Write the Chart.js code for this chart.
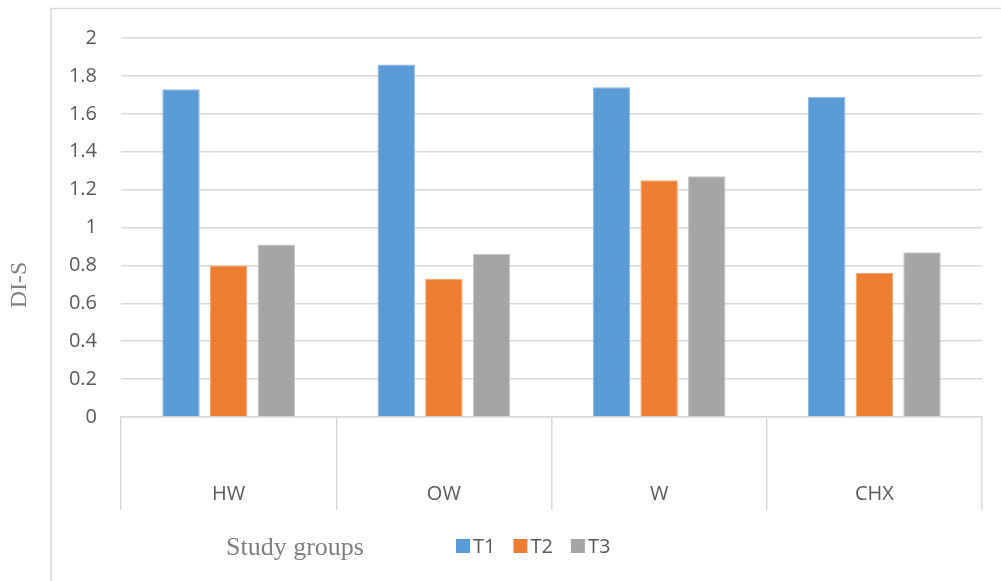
<!DOCTYPE html>
<html>
<head>
<meta charset="utf-8">
<script src="https://cdn.jsdelivr.net/npm/chart.js@4/dist/chart.umd.min.js"></script>
<style>
  html, body { margin: 0; padding: 0; background: #ffffff; }
  #wrap { width: 1001px; height: 581px; position: relative; }
</style>
</head>
<body>
<div id="wrap"><canvas id="c" width="1001" height="581"></canvas></div>
<script>
// Study groups and DI-S scores at three time points
const groups = ['HW', 'OW', 'W', 'CHX'];
const seriesNames = ['T1', 'T2', 'T3'];
const t1Values = [1.73, 1.86, 1.74, 1.69];
const t2Values = [0.80, 0.73, 1.25, 0.76];
const t3Values = [0.91, 0.86, 1.27, 0.87];
const yTickValues = [0, 0.2, 0.4, 0.6, 0.8, 1, 1.2, 1.4, 1.6, 1.8, 2];
const yTitle = 'DI-S';
const xTitle = 'Study groups';

const fills = ['#5B9BD5', '#ED7D31', '#A5A5A5'];
const edges = ['#8DB8E3', '#F3A56F', '#C6C6C6'];
const gridColor = '#D9D9D9';
const tickColor = '#595959';
const titleColor = '#7F7F7F';
const sansFont = "'Open Sans', 'Liberation Sans', sans-serif";
const serifFont = "'Liberation Serif', 'DejaVu Serif', serif";

// Frame, axis titles and legend drawn around the plot
const decorations = {
  id: 'decorations',
  beforeDraw(chart) {
    const ctx = chart.ctx;
    ctx.save();
    ctx.strokeStyle = gridColor;
    ctx.lineWidth = 1.5;
    ctx.beginPath();
    ctx.moveTo(51, 581);
    ctx.lineTo(51, 8.5);
    ctx.lineTo(1001, 8.5);
    ctx.stroke();
    ctx.restore();
  },
  afterDraw(chart) {
    const ctx = chart.ctx;
    ctx.save();
    // vertical axis title
    ctx.fillStyle = titleColor;
    ctx.font = '24px ' + serifFont;
    ctx.textAlign = 'center';
    ctx.textBaseline = 'middle';
    ctx.translate(20, 285);
    ctx.rotate(-Math.PI / 2);
    ctx.fillText(yTitle, 0, 0);
    ctx.restore();

    ctx.save();
    // horizontal axis title
    ctx.fillStyle = titleColor;
    ctx.font = '26px ' + serifFont;
    ctx.textAlign = 'left';
    ctx.textBaseline = 'alphabetic';
    ctx.fillText(xTitle, 226, 555);

    // legend
    ctx.font = '20px ' + sansFont;
    ctx.textBaseline = 'middle';
    let x = 456;
    chart.data.datasets.forEach((ds) => {
      ctx.fillStyle = ds.backgroundColor;
      ctx.fillRect(x, 539, 14, 14);
      ctx.fillStyle = tickColor;
      ctx.fillText(ds.label, x + 17, 547);
      x += 14 + 3 + ctx.measureText(ds.label).width + 18;
    });
    ctx.restore();
  }
};

const seriesValues = [t1Values, t2Values, t3Values];

new Chart(document.getElementById('c'), {
  type: 'bar',
  data: {
    labels: groups,
    datasets: seriesNames.map((name, i) => ({
      label: name,
      data: seriesValues[i],
      backgroundColor: fills[i],
      borderColor: edges[i],
      borderWidth: 1,
      categoryPercentage: 0.664,
      barPercentage: 0.786
    }))
  },
  options: {
    responsive: false,
    animation: false,
    devicePixelRatio: 1,
    layout: { padding: { left: 51, right: 19, top: 38, bottom: 0 } },
    plugins: {
      legend: { display: false },
      tooltip: { enabled: false }
    },
    scales: {
      x: {
        grid: {
          offset: true,
          drawOnChartArea: false,
          drawTicks: true,
          tickLength: 93,
          color: gridColor,
          lineWidth: 1.5
        },
        border: { display: true, color: gridColor, width: 1.5 },
        ticks: {
          color: tickColor,
          font: { family: sansFont, size: 20 },
          padding: -28,
          maxRotation: 0
        },
        afterFit(scale) { scale.height = 164; }
      },
      y: {
        min: 0,
        max: 2,
        grid: { color: gridColor, lineWidth: 1.5, drawTicks: false },
        border: { display: false },
        ticks: {
          color: tickColor,
          font: { family: sansFont, size: 20 },
          padding: 24,
          callback: (v) => String(Number(v.toFixed(1)))
        },
        afterBuildTicks(scale) {
          scale.ticks = yTickValues.map((v) => ({ value: v }));
        },
        afterFit(scale) { scale.width = 70; }
      }
    }
  },
  plugins: [decorations]
});
</script>
</body>
</html>
